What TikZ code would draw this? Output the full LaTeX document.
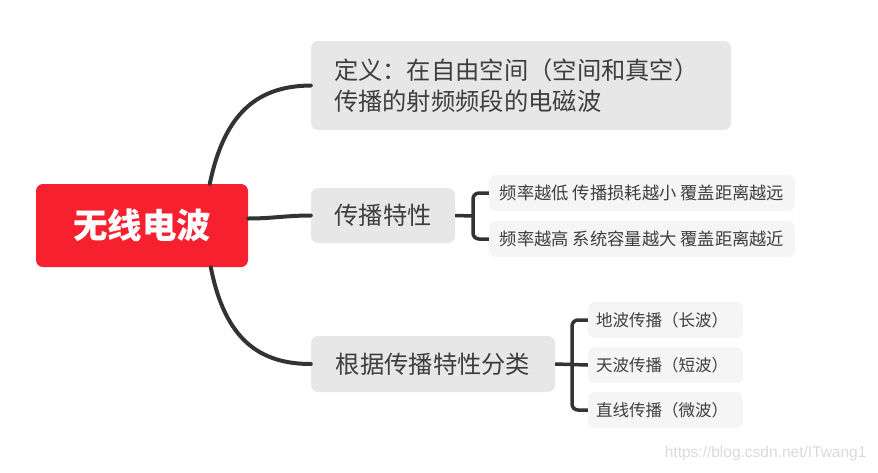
\documentclass[tikz,border=0pt]{standalone}
\usepackage{fontspec}
\setmainfont{Noto Sans CJK SC}
\newfontfamily\wmfont{Liberation Sans}
\definecolor{rootred}{RGB}{247,32,47}
\definecolor{maingray}{RGB}{231,231,231}
\definecolor{subgray}{RGB}{245,245,245}
\definecolor{txt}{RGB}{62,62,62}
\definecolor{linec}{RGB}{51,51,51}
\definecolor{wm}{RGB}{218,218,218}
\begin{document}
\begin{tikzpicture}[x=1pt,y=-1pt,
  rootbox/.style={fill=rootred,rounded corners=7pt,minimum width=212pt,minimum height=83pt,inner sep=0pt,text=white,font=\fontsize{34.5}{40}\selectfont\bfseries},
  mainbox/.style={fill=maingray,rounded corners=7pt,inner sep=0pt,text=txt,font=\fontsize{24.3}{31}\selectfont},
  subbox/.style={fill=subgray,rounded corners=7pt,inner sep=0pt,minimum height=36pt,text=txt,font=\fontsize{17.3}{20}\selectfont},
  leafbox/.style={fill=subgray,rounded corners=7pt,inner xsep=8pt,inner ysep=0pt,minimum height=36pt,text width=139pt,align=left,text=txt,font=\fontsize{16.5}{20}\selectfont},
  link/.style={draw=linec,line width=4pt,line cap=round},
  bracket/.style={draw=linec,line width=3.5pt,rounded corners=6pt}
]
\useasboundingbox (0,0) rectangle (878,472);
\node[rootbox] (root) at (142,225.5) {无线电波};
\node[mainbox,text width=374pt,inner xsep=23pt,minimum height=89pt,align=left] (def) at (521,85.5) {定义：在自由空间（空间和真空）\\传播的射频频段的电磁波};
\node[mainbox,minimum width=144pt,minimum height=55pt] (prop) at (383,215.5) {传播特性};
\node[mainbox,minimum width=244pt,minimum height=56pt] (cls) at (433,364) {根据传播特性分类};
\node[subbox,minimum width=306pt] (s1) at (642,193) {频率越低 传播损耗越小 覆盖距离越远};
\node[subbox,minimum width=306pt] (s2) at (642,239) {频率越高 系统容量越大 覆盖距离越近};
\node[leafbox] (g1) at (665.5,320) {地波传播（长波）};
\node[leafbox] (g2) at (665.5,365) {天波传播（短波）};
\node[leafbox] (g3) at (665.5,410) {直线传播（微波）};
\node[text=wm,font=\wmfont\fontsize{15.5}{18}\selectfont,anchor=east] (wmk) at (870,453) {https://blog.csdn.net/ITwang1};
% main connectors
\coordinate (rt) at ([xshift=174pt]root.north west);
\coordinate (rb) at ([xshift=175pt]root.south west);
\draw[link] (rt) .. controls (225,110) and (260,86) .. (def.west);
\draw[link] ([yshift=7pt]root.east) to[out=0,in=180] (prop.west);
\draw[link] (rb) .. controls (225,340) and (260,364) .. (cls.west);
% brackets
\coordinate (bx1) at (473,216);
\draw[bracket] (s1.west) -| (bx1) |- (s2.west);
\draw[draw=linec,line width=3.5pt] (prop.east) -- (bx1);
\coordinate (bx2) at (572,365);
\draw[bracket] (g1.west) -| (bx2) |- (g3.west);
\draw[draw=linec,line width=3.5pt] (cls.east) -- (g2.west);
\end{tikzpicture}
\end{document}
